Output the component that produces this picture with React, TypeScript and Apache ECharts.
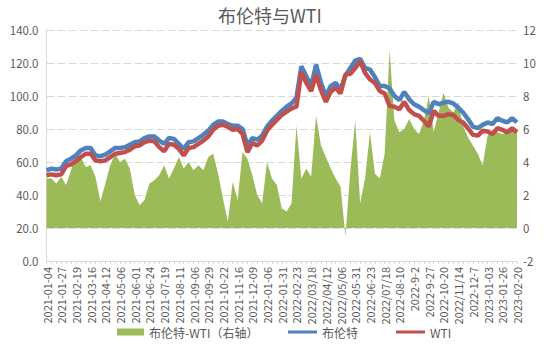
import React, { useEffect, useRef } from "react";
import * as echarts from "echarts";

const tickLabels = [
  "2021-01-04", "2021-01-27", "2021-02-19", "2021-03-16", "2021-04-12", "2021-05-06",
  "2021-06-01", "2021-06-24", "2021-07-19", "2021-08-11", "2021-09-06", "2021-09-29",
  "2021-10-22", "2021-11-16", "2021-12-09", "2022-01-06", "2022-01-31", "2022-02-23",
  "2022/03/18", "2022/04/12", "2022/05/06", "2022-05-31", "2022-06-23", "2022/07/18",
  "2022-08-10", "2022-9-2", "2022-9-27", "2022-10-20", "2022/11/14", "2022-12-7",
  "2023-01-03", "2023-01-26", "2023-02-20",
];

// Brent - WTI spread (right axis), sampled 3 points per labelled interval
const spread = [
  3.0, 3.0, 2.7, 3.1, 2.6, 3.5, 4.6, 4.3, 3.7, 3.8, 3.1, 1.6, 2.7, 3.8, 4.5, 4.0,
  4.2, 3.6, 2.0, 1.4, 1.7, 2.7, 2.9, 3.2, 3.8, 3.0, 3.6, 4.3, 3.6, 4.0, 3.5, 3.8,
  3.5, 4.3, 4.5, 3.3, 1.8, 0.4, 2.8, 1.7, 4.6, 4.2, 3.2, 2.0, 1.5, 4.0, 3.0, 2.6,
  1.2, 1.0, 1.5, 6.2, 3.0, 3.6, 3.1, 6.8, 5.0, 4.3, 3.6, 3.0, 2.5, -0.5, 3.5, 6.5,
  1.5, 3.0, 5.8, 3.3, 3.0, 4.5, 10.8, 6.5, 5.8, 6.0, 6.6, 6.0, 5.7, 6.5, 8.0, 5.8,
  7.0, 8.2, 7.3, 7.0, 7.6, 6.2, 5.5, 5.0, 4.5, 3.8, 5.6, 5.9, 5.8, 5.7, 5.8, 6.0, 6.0,
];

const brent = [
  55, 56, 55.5, 56, 60.5, 62, 64, 67, 68.5, 68.5, 64, 63.5, 64.5, 66.5, 68.5, 68.5,
  69, 70.5, 72, 72.5, 74.5, 75.5, 75.5, 73, 71, 74.5, 74, 71, 68, 72, 72.5, 74.5,
  76.5, 79, 82.5, 84.5, 84.5, 83, 82, 82, 80, 70, 74.5, 73.5, 76, 81.5, 85, 88,
  91, 93.5, 95.5, 99, 118, 112, 106, 119, 108, 100, 106, 108, 104, 112.5, 117, 121.5,
  122.5, 117, 116, 111.5, 106, 106, 104.5, 100, 97.5, 102.5, 98, 95, 93.5, 91.5, 89.5, 96.5,
  95, 96, 96.5, 95.5, 93, 90, 86, 81.5, 80.5, 82.5, 84, 83, 86.5, 85, 84, 86.5, 84,
];

const wti = [
  52, 52.5, 52, 52.5, 57.5, 58.5, 60.5, 63, 65, 65, 61, 60.5, 61, 63, 65, 65.5,
  66, 67.5, 69.5, 70, 72, 73, 72.5, 69, 66.5, 71, 70.5, 68, 64, 68.5, 69, 71,
  73, 75.5, 79.5, 82, 82.5, 81.5, 79.5, 80, 77, 66, 71.5, 70, 73, 79, 82.5, 85.5,
  88.5, 90.5, 92.5, 93.5, 114.5, 108, 103, 113, 103.5, 96.5, 102.5, 105, 101.5, 113, 113.5, 117,
  121, 114, 110, 108, 103, 101.5, 94, 93.5, 92, 96.5, 91.5, 89, 88, 85, 81.5, 91,
  88, 88, 89, 88.5, 85.5, 84, 80.5, 76.5, 76, 79, 78.5, 77, 80.5, 79.5, 78, 80.5, 78,
];

const PER = 3;
const categories = spread.map((_, k) =>
  k % PER === 0 ? tickLabels[k / PER] : `${tickLabels[Math.floor(k / PER)]}#${k % PER}`
);

const FONT = '"Noto Sans CJK SC", "Noto Sans", sans-serif';
const TXT = "#595959";
const GRID = "#d9d9d9";

export default function App() {
  const ref = useRef<HTMLDivElement>(null);
  useEffect(() => {
    if (!ref.current) return;
    const chart = echarts.init(ref.current, null, { renderer: "svg" });
    chart.setOption({
      animation: false,
      backgroundColor: "#ffffff",
      textStyle: { fontFamily: FONT },
      title: {
        text: "布伦特与WTI",
        left: 213,
        top: 1,
        textStyle: { fontSize: 18, fontWeight: "normal", color: TXT, fontFamily: FONT },
      },
      grid: { left: 46.5, right: 33, top: 30, bottom: 92 },
      legend: [
        {
          data: ["布伦特-WTI（右轴）"],
          left: 117,
          top: 326,
          padding: 0,
          itemWidth: 27,
          itemHeight: 7,
          icon: "rect",
          textStyle: { fontSize: 12, color: TXT, fontFamily: FONT },
        },
        {
          data: ["布伦特", "WTI"],
          left: 288,
          top: 326,
          padding: 0,
          itemGap: 38,
          itemWidth: 29,
          itemHeight: 3,
          icon: "rect",
          textStyle: { fontSize: 12, color: TXT, fontFamily: FONT },
        },
      ],
      xAxis: {
        type: "category",
        data: categories,
        boundaryGap: false,
        axisLine: { show: true, lineStyle: { color: GRID } },
        axisTick: { show: true, interval: 0, length: 3, lineStyle: { color: GRID } },
        axisLabel: {
          interval: PER - 1,
          rotate: 90,
          fontSize: 11,
          color: TXT,
          margin: 6,
          fontFamily: FONT,
        },
        splitLine: { show: false },
      },
      yAxis: [
        {
          type: "value",
          min: 0,
          max: 140,
          interval: 20,
          axisLine: { show: true, lineStyle: { color: GRID } },
          axisTick: { show: false },
          axisLabel: {
            formatter: (v: number) => v.toFixed(1),
            color: TXT,
            fontSize: 11.5,
            margin: 8,
            fontFamily: FONT,
          },
          splitLine: { show: true, lineStyle: { color: GRID, type: [8, 3], width: 1 } },
        },
        {
          type: "value",
          min: -2,
          max: 12,
          interval: 2,
          position: "right",
          axisLine: { show: false },
          axisTick: { show: false },
          axisLabel: { color: TXT, fontSize: 11.5, margin: 6, fontFamily: FONT },
          splitLine: { show: false },
        },
      ],
      series: [
        {
          name: "布伦特-WTI（右轴）",
          type: "line",
          yAxisIndex: 1,
          data: spread,
          showSymbol: false,
          symbol: "none",
          lineStyle: { width: 0 },
          itemStyle: { color: "#9BBB59" },
          areaStyle: { color: "#9BBB59", opacity: 1 },
        },
        {
          name: "布伦特",
          type: "line",
          yAxisIndex: 0,
          data: brent,
          showSymbol: false,
          symbol: "none",
          itemStyle: { color: "#4F81BD" },
          lineStyle: { color: "#4F81BD", width: 4.5 },
        },
        {
          name: "WTI",
          type: "line",
          yAxisIndex: 0,
          data: wti,
          showSymbol: false,
          symbol: "none",
          itemStyle: { color: "#C0504D" },
          lineStyle: { color: "#C0504D", width: 4.5 },
        },
      ],
    });
    return () => chart.dispose();
  }, []);
  return (
    <div
      ref={ref}
      style={{ position: "fixed", left: 0, top: 0, width: 550, height: 353, background: "#fff" }}
    />
  );
}
